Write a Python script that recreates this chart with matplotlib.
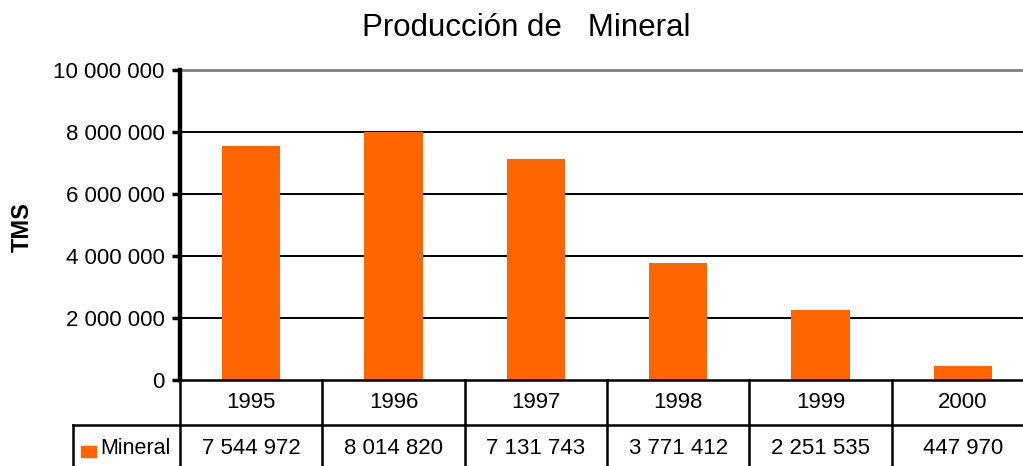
import matplotlib
matplotlib.use("Agg")
import matplotlib.pyplot as plt
from matplotlib.patches import Rectangle

plt.rcParams['font.family'] = ['Liberation Sans', 'DejaVu Sans']

years = ['1995', '1996', '1997', '1998', '1999', '2000']
mineral = [7544972, 8014820, 7131743, 3771412, 2251535, 447970]
yticks = [0, 2000000, 4000000, 6000000, 8000000, 10000000]
series_name = 'Mineral'
bar_color = '#FF6600'


def fmt(v):
    return f'{v:,}'.replace(',', ' ')


W, H = 1023, 466
fig = plt.figure(figsize=(W / 100, H / 100), dpi=100)

# plot area in pixels: x 180..1034 (last column runs off the image), y 70..380
px_l, px_r, px_t, px_b = 180, 1034, 70, 380
ax = fig.add_axes([px_l / W, 1 - px_b / H, (px_r - px_l) / W, (px_b - px_t) / H])

x = list(range(len(years)))
ax.bar(x, mineral, width=0.41, color=bar_color, zorder=3)
ax.set_xlim(-0.5, len(years) - 0.5)
ax.set_ylim(0, 10000000)

# gridlines
for v in yticks[1:-1]:
    ax.axhline(v, color='black', lw=1.4, zorder=1)
ax.axhline(yticks[-1], color='#808080', lw=2.0, zorder=1, clip_on=False)
ax.axhline(0, color='black', lw=1.8, zorder=4, clip_on=False)

for s in ['top', 'right', 'bottom']:
    ax.spines[s].set_visible(False)
ax.spines['left'].set_linewidth(3.2)
ax.spines['left'].set_zorder(5)

ax.set_yticks(yticks)
ax.set_yticklabels([fmt(v) for v in yticks], fontsize=16)
ax.tick_params(axis='y', length=6, width=2.5, pad=5, color='black')
ax.set_xticks([])


def ay(py):
    # pixel row -> axes y coordinate
    return (px_b - py) / (px_b - px_t)


trans = ax.get_xaxis_transform()
col_w = (px_r - px_l) / len(years)
leg_left = -0.5 + (73 - px_l) / col_w

# table grid
for i in range(len(years) + 1):
    ax.plot([i - 0.5, i - 0.5], [ay(380), ay(470)], color='black', lw=1.8,
            transform=trans, clip_on=False)
ax.plot([leg_left, len(years) - 0.5], [ay(425), ay(425)], color='black', lw=1.8,
        transform=trans, clip_on=False)
ax.plot([leg_left, leg_left], [ay(425), ay(470)], color='black', lw=1.8,
        transform=trans, clip_on=False)

for i, (yr, v) in enumerate(zip(years, mineral)):
    ax.text(i, ay(403), yr, ha='center', va='center', fontsize=16,
            transform=trans, clip_on=False)
    ax.text(i, ay(449), fmt(v), ha='center', va='center', fontsize=16,
            transform=trans, clip_on=False)

# legend key in the table
fig.patches.append(Rectangle((81 / W, 1 - 457 / H), 15 / W, 11 / H,
                             transform=fig.transFigure, color=bar_color))
fig.text(100 / W, 1 - 449 / H, series_name, ha='left', va='center', fontsize=15.5)

fig.text(22 / W, 1 - 227 / H, 'TMS', rotation=90, ha='center', va='center',
         fontsize=17, fontweight='bold')
fig.text(526 / W, 1 - 36 / H, 'Producción de   Mineral', ha='center',
         va='baseline', fontsize=22.5)

fig.savefig('out.png', dpi=100)
